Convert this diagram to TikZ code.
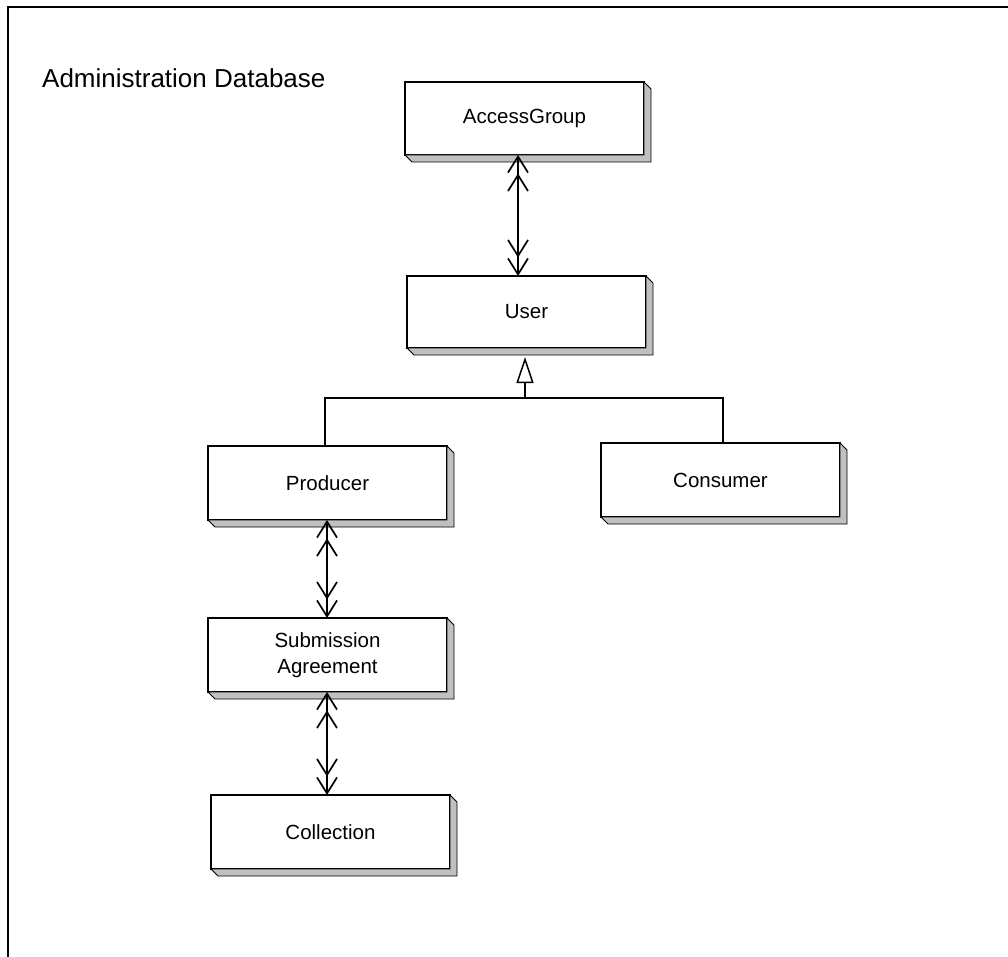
\documentclass[tikz,border=0pt]{standalone}
\usepackage{fontspec}
\setmainfont{Liberation Sans}
\usetikzlibrary{arrows.meta}
\newcommand\labelfont{\fontsize{20.5}{26.5}\selectfont}
\newcommand\titlefont{\fontsize{26}{31}\selectfont}
\newcommand\boxshade[1]{\filldraw[shade3d] (#1.north east) -- ++(7,7) -- ([shift={(7,7)}]#1.south east) -- ([shift={(7,7)}]#1.south west) -- (#1.south west) -- (#1.south east) -- cycle;}
\tikzset{
  umlbox/.style={draw=black, line width=1.1pt, fill=white, minimum width=239pt, minimum height=73pt, inner sep=0pt, outer sep=0pt, font=\labelfont, align=center},
  shade3d/.style={fill={rgb,255:red,192;green,192;blue,192}, draw=black, line width=0.8pt, line join=miter},
  assoc/.style={line width=1.7pt, {Straight Barb[length=16pt,width=20pt]Straight Barb[length=16pt,width=20pt]}-{Straight Barb[length=16pt,width=20pt]Straight Barb[length=16pt,width=20pt]}},
  gen/.style={line width=1.5pt, -{Triangle[open,length=26pt,width=17pt,fill=white]}},
  genline/.style={line width=1.5pt},
  frame/.style={line width=2pt},
}
\begin{document}
\begin{tikzpicture}[x=1pt,y=-1pt]
\useasboundingbox (0,0) rectangle (1008,957);
\draw[frame] (8,957) -- (8,7) -- (1008,7);
\node[anchor=base west, inner sep=0pt, font=\titlefont] (title) at (42,88) {Administration Database};

\node[umlbox] (ag) at (524.5,118.5) {AccessGroup};
\node[umlbox, minimum height=72pt] (user) at (526.5,312) {User};
\node[umlbox, minimum height=74pt] (prod) at (327.5,483) {Producer};
\node[umlbox, minimum height=74pt] (cons) at (720.5,480) {Consumer};
\node[umlbox, minimum height=74pt] (sub) at (327.5,655) {Submission\\Agreement};
\node[umlbox, minimum height=74pt] (coll) at (330.5,832) {Collection};
\boxshade{ag}
\boxshade{user}
\boxshade{prod}
\boxshade{cons}
\boxshade{sub}
\boxshade{coll}

\coordinate (a1) at (518,0);
\coordinate (a2) at (327,0);
\draw[assoc] (ag.south -| a1) -- (user.north -| a1);
\draw[assoc] (prod.south -| a2) -- (sub.north -| a2);
\draw[assoc] (sub.south -| a2) -- (coll.north -| a2);

\coordinate (jn) at (525,398);
\coordinate (jl) at (325,398);
\coordinate (jr) at (723,398);
\draw[gen] (jn) -- ([yshift=-9pt]user.south -| jn);
\draw[genline] (prod.north -| jl) -- (jl) -- (jr) -- (cons.north -| jr);
\end{tikzpicture}
\end{document}
